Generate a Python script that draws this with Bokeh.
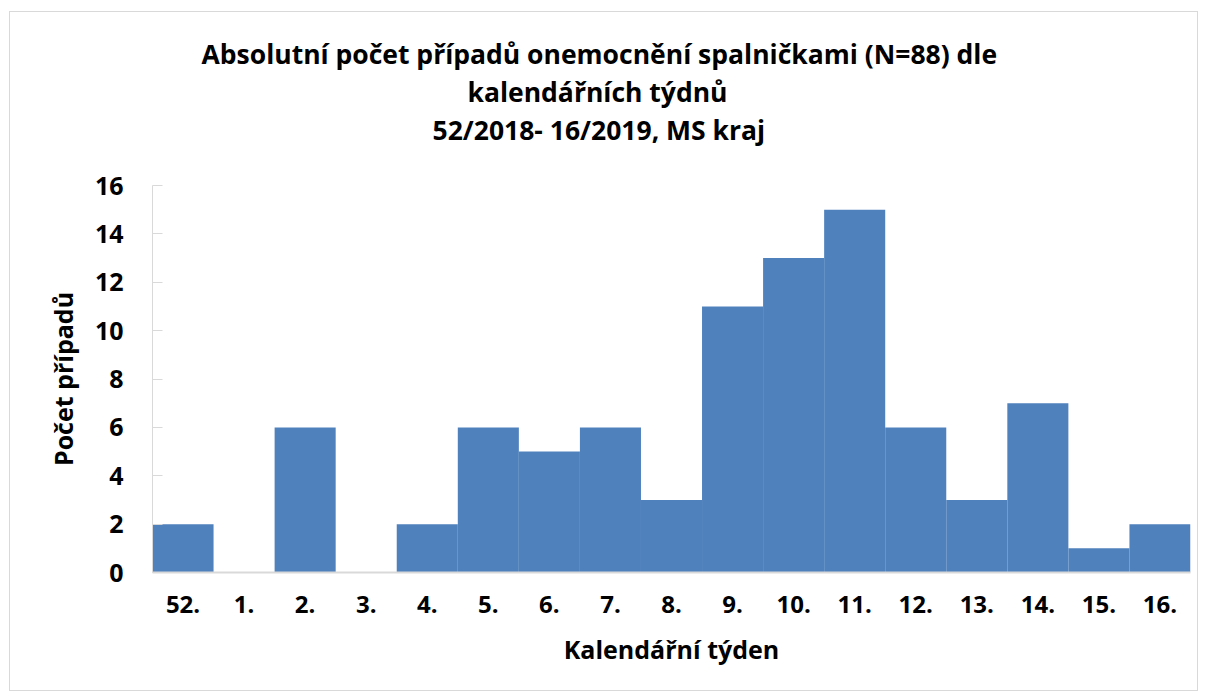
from bokeh.plotting import figure
from bokeh.models import Title, FixedTicker, ColumnDataSource
from bokeh.embed import file_html
from bokeh.resources import INLINE

weeks = ["52.", "1.", "2.", "3.", "4.", "5.", "6.", "7.", "8.", "9.", "10.", "11.", "12.", "13.", "14.", "15.", "16."]
cases = [2, 0, 6, 0, 2, 6, 5, 6, 3, 11, 13, 15, 6, 3, 7, 1, 2]
title_lines = [
    "Absolutní počet případů onemocnění spalničkami (N=88) dle",
    "kalendářních týdnů",
    "52/2018- 16/2019, MS kraj",
]
y_ticks = [0, 2, 4, 6, 8, 10, 12, 14, 16]

FONT = "Open Sans"

src = ColumnDataSource(dict(week=weeks, cases=cases))

p = figure(x_range=weeks, y_range=(0, 16), width=1189, height=680,
           output_backend="svg", toolbar_location=None, title=None,
           min_border_left=142, min_border_right=9, min_border_bottom=120,
           min_border_top=173)

p.vbar(x="week", top="cases", width=1.0, source=src, fill_color="#4F81BD", line_color=None)

# spacer between the plot frame and the title block
p.add_layout(Title(text=" ", text_font=FONT, text_font_size="26px", standoff=0), "above")
# left offsets so that every title line is centred over the whole chart
title_offsets = [49, 315, 280]
for t, off in zip(reversed(title_lines), reversed(title_offsets)):
    p.add_layout(Title(text=t, align="left", offset=off, text_font=FONT,
                       text_font_size="26.5px", text_font_style="bold",
                       text_color="black", standoff=0), "above")

p.xgrid.visible = False
p.ygrid.visible = False
p.outline_line_color = None
p.background_fill_color = "white"
p.border_fill_color = "white"

ya = p.yaxis[0]
ya.ticker = FixedTicker(ticks=y_ticks)
ya.axis_line_color = "#D9D9D9"
ya.major_tick_line_color = "#D9D9D9"
ya.major_tick_in = 10
ya.major_tick_out = 0
ya.minor_tick_line_color = None
ya.major_label_text_font = FONT
ya.major_label_text_font_size = "25px"
ya.major_label_text_font_style = "bold"
ya.major_label_text_color = "black"
ya.major_label_standoff = 29
ya.axis_label = "Počet případů"
ya.axis_label_text_font = FONT
ya.axis_label_text_font_size = "25px"
ya.axis_label_text_font_style = "bold"
ya.axis_label_text_color = "black"
ya.axis_label_standoff = 12

xa = p.xaxis[0]
xa.axis_line_color = "#D9D9D9"
xa.axis_line_width = 2
xa.major_tick_line_color = None
xa.minor_tick_line_color = None
xa.major_label_text_font = FONT
xa.major_label_text_font_size = "24px"
xa.major_label_text_font_style = "bold"
xa.major_label_text_color = "black"
xa.major_label_standoff = 17
xa.axis_label = "Kalendářní týden"
xa.axis_label_text_font = FONT
xa.axis_label_text_font_size = "25px"
xa.axis_label_text_font_style = "bold"
xa.axis_label_text_color = "black"
xa.axis_label_standoff = 16

p.styles = {"border": "1px solid #D9D9D9", "margin": "11px 0 0 9px"}

open("out.html", "w").write(file_html(p, INLINE))
